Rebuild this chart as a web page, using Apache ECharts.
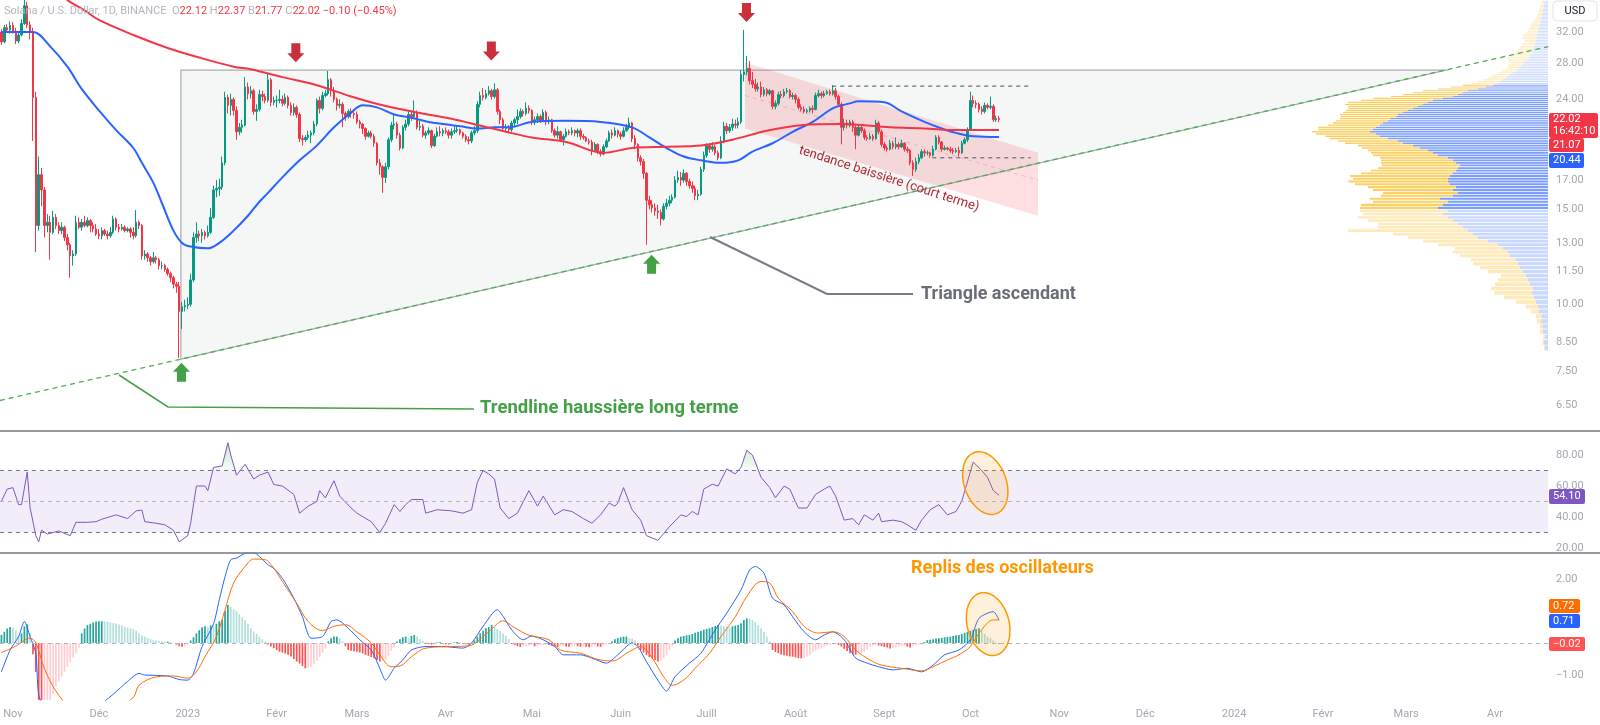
<!DOCTYPE html>
<html><head><meta charset="utf-8">
<script src="https://cdn.jsdelivr.net/npm/echarts@6/dist/echarts.min.js"></script>
<style>html,body{margin:0;padding:0;background:#fff}#c{width:1600px;height:725px}</style>
</head><body><div id="c"></div>
<script>
// ---------- DATA ----------
const startDate = '2022-10-28';   // first category (day index d = -4, where d = days since 2022-11-01)
const dayCount = 540;             // categories on the time axis (to mid-April 2024)
const firstOpen = 32.0;
// daily closes from 2022-10-28 to 2023-10-11
const closes = [
30.7,32.6,32.3,32.9,
32.1,30.8,31.6,33.2,35.8,33.0,31.9,24.2,14.0,17.4,16.3,14.0,14.2,13.6,14.5,14.0,13.7,13.9,13.3,12.9,12.3,12.4,14.2,13.9,14.2,14.0,14.3,14.0,13.8,13.5,
13.4,13.7,13.5,13.4,13.6,14.4,13.9,13.8,13.9,13.7,13.8,13.6,13.4,14.2,14.0,12.3,12.4,12.2,12.0,12.2,12.1,11.8,11.8,11.6,11.4,11.2,10.9,10.8,9.7,9.9,9.95,
10.0,11.1,13.3,13.5,13.4,13.6,13.4,13.6,14.5,16.3,16.4,16.5,18.3,24.2,23.4,24.0,22.9,20.9,21.3,21.5,25.3,24.6,24.9,22.8,23.0,24.5,24.3,23.9,26.1,23.7,23.9,
23.9,24.0,23.6,24.2,23.4,22.7,23.2,22.5,20.3,20.2,20.4,20.6,20.8,21.6,23.9,23.1,24.4,24.6,26.1,24.9,24.0,23.4,23.5,22.6,22.3,22.8,22.6,22.5,
21.8,21.6,21.2,20.5,20.8,20.5,19.9,18.3,18.0,17.2,18.0,20.2,21.5,21.6,20.6,19.5,21.3,21.6,22.5,22.3,22.6,21.3,21.4,20.6,20.8,21.0,19.7,20.5,20.9,20.8,21.0,
20.9,20.6,20.9,21.0,21.1,20.8,20.5,20.2,20.1,20.8,21.0,23.5,24.4,24.2,24.6,24.9,24.3,25.0,22.8,22.0,21.2,21.3,21.1,21.7,22.0,22.3,22.8,22.6,23.1,22.9,
21.8,22.0,22.3,21.9,22.7,21.8,22.0,21.0,20.6,20.9,20.2,20.5,20.9,20.8,21.0,20.8,21.0,20.5,20.4,20.1,20.0,19.3,19.8,19.2,19.0,19.6,20.1,20.8,20.6,21.0,20.7,
20.5,21.0,21.3,21.7,20.3,19.8,18.7,18.4,17.5,15.6,15.3,15.1,14.9,14.8,14.4,15.2,15.4,15.6,15.8,17.0,17.2,17.0,17.5,16.9,16.6,16.4,15.9,16.0,17.8,18.9,
19.7,19.4,19.6,19.1,18.7,20.1,21.4,21.0,21.3,21.6,21.5,21.8,26.7,27.0,27.4,26.0,25.6,25.1,25.3,24.5,25.0,24.6,24.9,23.3,23.6,24.5,24.4,24.8,24.9,24.3,24.4,
24.0,23.2,23.0,22.8,22.9,23.1,23.0,24.4,24.6,24.4,24.6,24.8,24.6,24.9,24.3,23.5,21.3,21.7,21.5,21.8,21.3,20.6,21.3,21.0,20.4,20.3,20.5,20.3,21.7,20.9,19.8,
19.5,19.4,19.9,19.6,19.8,19.6,19.9,19.4,19.3,18.3,17.8,18.4,18.7,19.2,19.1,19.1,18.9,19.4,20.4,20.0,19.4,19.5,19.4,19.3,19.2,19.3,19.1,19.9,20.2,21.1,
23.9,23.6,23.5,23.0,22.8,23.4,23.2,23.3,22.0,22.12,22.02
];
const highs = [
32.4,33.0,33.1,33.5,
33.4,32.6,32.0,33.8,37.9,36.4,33.5,32.6,24.8,18.8,17.9,16.5,14.7,14.6,14.9,14.7,14.2,14.2,14.0,13.5,13.0,12.6,14.6,14.5,14.4,14.6,14.5,14.4,14.2,14.1,
13.8,13.9,13.8,13.7,13.9,14.6,14.5,14.1,14.1,14.0,13.9,13.9,13.9,14.96,14.3,14.1,12.6,12.5,12.3,12.5,12.3,12.2,12.0,11.9,11.7,11.5,11.3,11.0,11.0,10.1,10.2,
10.3,11.4,13.6,14.2,13.7,13.8,13.7,14.0,15.1,16.6,17.0,17.1,18.8,24.8,24.5,24.6,24.2,23.3,21.7,22.0,26.4,25.8,25.4,25.1,23.5,25.0,24.9,24.6,26.9,26.3,24.3,
24.4,25.0,24.4,24.6,24.4,23.7,23.6,23.4,22.7,20.6,20.6,21.0,21.0,21.9,24.1,24.3,24.8,25.0,27.1,26.3,25.3,24.2,24.0,23.7,22.8,23.0,23.1,22.9,
22.8,22.0,21.7,21.3,21.0,21.0,20.7,20.0,18.6,18.1,18.3,20.4,21.8,22.6,21.8,20.8,21.5,22.0,22.8,22.9,23.9,22.9,21.9,21.6,21.0,21.3,21.1,20.7,21.3,21.4,21.2,
21.3,21.1,21.2,21.4,21.5,21.2,20.9,20.7,20.5,21.0,21.4,23.8,24.8,25.2,25.0,25.4,25.1,25.7,25.2,23.0,22.2,21.6,21.5,21.9,22.2,23.0,23.1,23.0,23.7,23.4,
23.0,22.3,22.6,22.5,23.0,22.9,22.3,22.1,21.2,21.4,21.0,20.7,21.2,21.1,21.3,21.1,21.2,21.2,20.7,20.5,20.3,20.2,20.0,19.9,19.4,19.8,20.3,21.0,21.1,21.3,21.1,
20.9,21.3,21.6,22.2,21.8,20.6,19.9,18.9,18.6,17.6,15.9,15.6,15.4,15.3,15.0,15.4,15.7,15.9,16.0,17.3,17.7,17.6,17.8,17.6,17.1,16.9,16.6,16.3,18.0,19.2,
19.9,19.9,20.0,19.8,19.3,20.5,21.8,21.7,21.6,22.1,22.0,22.2,27.2,32.3,28.9,28.3,27.0,26.2,25.8,25.9,25.3,25.2,25.1,25.0,23.9,24.8,24.9,25.1,25.2,25.1,24.7,
24.6,24.2,23.5,23.3,23.1,23.3,23.4,24.7,25.0,24.8,24.9,25.0,25.0,25.5,25.2,24.5,23.7,22.1,22.0,22.0,22.0,21.5,21.5,21.5,21.2,20.6,20.8,20.7,22.0,21.9,21.1,
20.0,19.7,20.2,20.1,20.4,20.0,20.2,20.0,19.6,19.4,18.5,18.7,19.0,19.4,19.4,19.3,19.2,19.7,20.6,20.6,20.1,19.7,19.6,19.6,19.5,19.5,19.6,20.1,20.4,21.3,
24.8,24.4,23.9,23.7,23.3,23.7,23.6,24.3,23.5,22.4,22.37
];
const lows = [
30.3,30.5,31.9,31.8,
31.8,30.4,30.5,31.4,33.0,32.6,31.0,20.1,12.5,13.7,15.2,13.3,13.6,12.1,13.5,13.8,13.5,13.5,13.1,12.6,11.2,11.8,12.3,13.8,13.7,13.9,13.9,13.6,13.6,13.4,
13.2,13.2,13.4,13.2,13.3,13.5,13.7,13.6,13.7,13.6,13.6,13.3,13.2,13.3,13.8,12.1,12.1,12.0,11.8,11.9,11.9,11.6,11.6,11.5,11.3,11.0,10.7,10.5,7.95,9.0,9.7,
9.8,9.9,11.0,13.0,13.1,13.0,13.2,13.3,13.5,14.4,15.8,15.9,16.3,18.1,22.6,22.4,22.4,20.2,20.6,20.8,21.4,24.0,24.1,22.5,21.9,22.8,23.8,23.6,23.7,23.3,23.4,
23.2,23.6,23.3,23.4,23.1,22.4,22.4,22.2,20.0,19.7,20.0,20.2,19.9,20.6,21.4,22.6,22.9,24.2,24.4,24.3,23.7,22.9,23.1,21.3,21.9,22.1,22.2,22.1,
21.6,21.2,20.7,20.2,20.4,20.3,19.6,18.1,17.4,16.1,16.8,17.8,20.0,21.1,20.3,19.3,19.4,21.0,21.4,21.9,22.1,21.1,21.0,20.4,20.3,20.6,19.5,19.6,20.4,20.5,20.5,
20.7,20.3,20.3,20.7,20.8,20.6,20.3,20.0,19.8,19.9,20.6,20.8,23.2,23.9,24.0,24.4,24.0,24.1,22.5,21.6,20.9,20.9,20.8,20.9,21.3,21.6,22.1,22.3,22.4,22.6,
21.5,21.5,21.7,21.7,21.8,21.5,21.6,20.8,20.4,20.3,20.0,19.7,20.4,20.6,20.6,20.5,20.4,20.2,20.2,20.0,19.8,18.9,19.2,19.0,18.8,18.9,19.5,20.0,20.3,20.5,20.4,
20.2,20.4,20.9,21.1,20.0,19.4,18.4,18.1,17.1,12.9,15.0,14.8,14.6,14.4,14.0,14.3,15.0,15.2,15.4,15.7,16.8,16.6,16.8,16.6,16.4,16.1,15.6,15.6,15.9,17.6,
18.7,19.1,19.2,18.9,18.5,18.6,19.9,20.7,20.8,21.0,21.2,21.2,21.6,25.9,26.6,25.6,25.2,24.8,24.8,24.2,24.3,24.3,24.4,23.0,23.0,23.4,24.1,24.2,24.6,24.1,24.0,
23.6,23.0,22.8,22.6,22.6,22.7,22.6,22.9,24.2,24.1,24.2,24.5,24.4,24.4,24.0,23.3,19.8,21.0,21.2,21.3,20.9,19.4,20.5,20.8,20.2,20.1,20.2,20.1,20.2,20.7,19.6,
19.3,19.2,19.3,19.4,19.4,19.4,19.5,19.2,19.1,18.1,17.3,17.6,18.2,18.6,18.8,18.9,18.7,18.8,19.3,19.8,19.2,19.3,19.3,19.1,19.0,19.1,18.8,19.0,19.8,20.0,
21.0,23.2,23.1,22.7,22.5,22.6,23.0,23.0,21.8,21.8,21.77
];
// moving averages: [d, value]
const maBlue = [[-4,32.0],[7,32.0],[13,30.1],[19,27.6],[24,25.1],[30,22.9],[36,21.05],[42,19.5],[45,18.3],[49,16.8],[52,15.4],[56,13.7],[59,13.0],[62,12.8],[68,12.7],[72,13.0],[77,13.7],[82,14.6],[86,15.5],[89,16.1],[94,17.2],[100,18.5],[106,19.7],[112,21.3],[118,22.7],[122,23.4],[127,23.2],[133,22.5],[139,22.2],[145,21.8],[150,21.6],[156,21.4],[162,21.2],[168,21.3],[173,21.3],[181,21.8],[193,21.9],[205,21.8],[216,21.3],[222,20.4],[228,19.5],[234,18.8],[240,18.5],[247,18.3],[253,18.5],[258,19.2],[265,19.9],[272,20.9],[279,21.8],[286,23.1],[292,23.6],[295,23.8],[304,23.7],[310,22.8],[318,21.8],[324,21.2],[329,20.8],[335,20.5],[344,20.44]];
const maRed = [[15,38.5],[19,36.7],[25,35.1],[30,33.7],[42,31.6],[54,29.9],[65,28.7],[77,27.6],[83,27.3],[94,26.4],[106,25.5],[118,24.3],[129,23.4],[141,22.7],[153,22.1],[164,21.4],[172,20.9],[181,20.4],[193,20.0],[206,19.1],[216,19.5],[228,19.6],[240,19.7],[251,20.2],[263,21.0],[275,21.5],[289,21.6],[306,21.3],[318,21.2],[329,21.05],[344,21.07]];
// RSI: [d, value]
const rsi = [[-4,50.2],[-2,58],[0,59],[2,48],[3,48],[5,69],[6,46],[8,28],[9,24],[10,31.5],[12,29],[16,31],[20,28],[22,36.6],[26,36.6],[29,37],[31,38.6],[36,41.4],[40,39],[43,44],[45,44.5],[46,37],[50,36],[53,35],[56,31.5],[58,24],[61,28],[62,36],[64,60],[67,60],[68,57],[70,72],[73,73],[75,88],[76,80],[78,67],[81,74],[84,64.5],[86,67],[89,69],[91,61],[94,60],[98,54.6],[100,42.5],[103,47],[106,50],[107,57],[109,52.4],[112,63.4],[114,53.5],[118,45.8],[120,42.5],[125,37],[128,30],[130,36],[133,48],[135,43.6],[137,48],[139,51.3],[143,51.3],[144,42.5],[148,44.7],[153,44],[157,42.5],[160,44.7],[162,62.3],[164,70],[166,67.8],[168,64.5],[170,45.8],[173,39],[176,42.5],[180,57],[183,47],[185,53.5],[189,41.4],[192,44.7],[195,43.6],[199,39],[202,36],[205,41.4],[208,49],[210,47],[211,49],[213,59],[216,44.7],[219,38],[221,28],[225,25],[227,29.3],[229,33.7],[233,41.4],[235,40.3],[237,43.6],[239,41.4],[241,58],[244,61.2],[246,60],[249,71],[252,67.8],[254,72],[256,83],[258,80],[261,65.6],[264,59],[266,52.4],[269,60],[271,58],[274,45.8],[277,45.8],[280,54.6],[283,58],[285,60],[287,53.5],[290,38],[293,39],[295,35],[297,41.4],[300,38],[302,42.5],[303,37],[307,38],[310,37],[312,35],[315,31.5],[317,38],[320,44.7],[323,48],[326,41.4],[329,43.6],[331,50.2],[335,75.5],[338,70],[340,65.6],[342,57],[344,54.1]];
// MACD lines: [d, value]
const macdLine = [[-4,-0.9],[-1,-0.22],[2,0.2],[4,0.67],[6,0.2],[8,-0.33],[9,-1.6],[12,-2.3],[16,-2.6],[22,-2.5],[28,-2.1],[35,-1.6],[40,-1.2],[44,-0.95],[46,-1.0],[54,-1.03],[58,-1.14],[61,-1.16],[63,-0.95],[66,-0.11],[70,0.6],[72,1.35],[74,2.07],[76,2.6],[78,2.65],[81,2.8],[84,2.82],[86,2.7],[89,2.44],[91,2.33],[94,2.02],[98,1.4],[101,0.82],[104,0.15],[108,0.2],[111,0.67],[113,0.72],[117,0.46],[121,0.1],[125,-0.22],[128,-0.79],[130,-1.16],[133,-0.79],[136,-0.53],[139,-0.22],[144,-0.11],[150,-0.11],[157,-0.16],[160,0],[164,0.52],[169,1.04],[171,0.83],[174,0.41],[178,0.1],[181,0.22],[185,0.1],[189,-0.11],[192,-0.37],[198,-0.37],[202,-0.47],[207,-0.63],[211,-0.37],[216,0],[218,-0.11],[221,-0.58],[225,-1.16],[228,-1.5],[231,-1.05],[236,-0.63],[240,-0.32],[245,0.41],[249,0.93],[254,1.66],[257,2.28],[259,2.39],[262,2.18],[265,1.4],[269,1.19],[272,0.82],[276,0.35],[280,0.1],[283,0.25],[286,0.35],[290,0.1],[294,-0.47],[298,-0.63],[302,-0.74],[307,-0.84],[312,-0.79],[317,-0.9],[321,-0.69],[325,-0.37],[330,-0.22],[334,0.1],[337,0.77],[342,0.98],[344,0.71]];
const macdSignal = [[-4,-0.3],[1,-0.1],[6,0.15],[8,0.0],[11,-0.8],[15,-1.5],[20,-2.0],[28,-2.2],[36,-2.0],[42,-1.7],[44,-1.32],[50,-1.06],[56,-1.03],[61,-1.1],[64,-0.9],[67,-0.43],[71,0.2],[74,1.04],[77,1.87],[81,2.39],[84,2.62],[88,2.6],[91,2.33],[94,1.92],[99,1.24],[103,0.67],[108,0.39],[112,0.52],[116,0.57],[120,0.35],[125,0],[128,-0.37],[132,-0.74],[135,-0.72],[139,-0.43],[144,-0.16],[153,-0.11],[159,-0.09],[166,0.35],[171,0.69],[175,0.48],[180,0.24],[187,0.1],[191,-0.22],[198,-0.32],[204,-0.51],[209,-0.56],[215,-0.27],[219,-0.11],[223,-0.47],[227,-1.05],[230,-1.32],[234,-1.16],[238,-0.79],[243,-0.32],[247,0.2],[252,0.82],[256,1.45],[261,1.92],[264,1.87],[267,1.4],[272,0.98],[276,0.52],[281,0.31],[286,0.35],[290,0.2],[294,-0.22],[299,-0.53],[303,-0.69],[310,-0.79],[317,-0.87],[321,-0.74],[326,-0.53],[330,-0.37],[334,-0.11],[337,0.3],[342,0.72],[344,0.72]];
// MACD histogram, one value per day from 2022-10-28
const macdHist = [
0.25,0.35,0.45,0.5,0.48,0.4,0.22,0.3,0.52,0.58,0.3,
-0.35,-0.9,-1.9,-2.0,-1.95,-1.9,-1.8,-1.6,-1.36,-1.2,-1.05,-0.9,-0.74,-0.6,-0.45,-0.32,-0.15,
0.3,0.45,0.56,0.6,0.64,0.67,0.68,0.68,0.67,0.66,0.64,0.62,0.61,0.58,0.55,0.51,0.48,0.46,0.43,0.38,0.3,0.24,0.2,0.16,0.12,0.09,0.08,0.06,0.05,0.04,0.04,0.03,0.01,
-0.05,-0.1,-0.12,-0.1,-0.05,
0.08,0.18,0.3,0.4,0.49,0.52,0.5,0.55,0.53,0.6,0.68,0.72,1.0,1.19,1.13,1.05,1.0,0.9,0.8,0.72,0.6,0.46,0.36,0.28,0.2,0.12,0.05,
-0.05,-0.11,-0.16,-0.22,-0.27,-0.3,-0.33,-0.37,-0.42,-0.5,-0.58,-0.64,-0.72,-0.79,-0.78,-0.74,-0.65,-0.55,-0.43,-0.3,-0.17,
0.05,0.15,0.2,0.2,0.15,0.05,
-0.1,-0.22,-0.24,-0.26,-0.27,-0.3,-0.33,-0.37,-0.4,-0.44,-0.48,-0.53,-0.58,-0.56,-0.53,-0.4,-0.25,-0.12,
0.05,0.12,0.18,0.2,0.15,0.22,0.25,0.2,0.12,0.07,0.03,
-0.03,-0.05,-0.04,0.02,0.03,-0.02,-0.04,-0.05,-0.03,0.02,0.03,0.02,-0.02,-0.04,-0.05,-0.03,
0.08,0.2,0.3,0.38,0.46,0.5,0.56,0.5,0.44,0.38,0.3,0.22,0.12,
-0.03,-0.06,-0.1,-0.12,-0.11,-0.1,-0.08,-0.06,-0.1,-0.09,-0.07,-0.06,-0.04,-0.06,-0.08,
-0.11,-0.12,-0.1,-0.09,-0.11,-0.12,-0.1,-0.08,-0.1,-0.12,-0.11,-0.12,-0.13,-0.12,-0.1,-0.11,-0.12,-0.1,-0.07,-0.03,
0.05,0.12,0.15,0.18,0.2,0.2,0.15,0.14,0.08,
-0.08,-0.22,-0.3,-0.37,-0.44,-0.48,-0.53,-0.58,-0.55,-0.48,-0.38,-0.22,-0.1,
0.08,0.15,0.2,0.22,0.24,0.25,0.28,0.32,0.35,0.38,0.42,0.44,0.46,0.5,0.53,0.56,0.55,0.53,0.51,0.5,0.52,0.54,0.56,0.62,0.72,0.77,0.76,0.72,0.65,0.56,0.45,0.35,0.2,0.05,
-0.22,-0.28,-0.32,-0.36,-0.38,-0.4,-0.42,-0.43,-0.45,-0.47,-0.48,-0.45,-0.42,-0.37,-0.3,-0.24,-0.2,-0.17,-0.12,-0.08,-0.06,-0.04,
-0.03,-0.06,-0.11,-0.18,-0.25,-0.32,-0.35,-0.37,-0.35,-0.3,-0.27,-0.2,-0.11,-0.08,-0.06,
-0.08,-0.1,-0.12,-0.14,-0.17,-0.16,-0.14,-0.12,-0.1,-0.09,-0.11,-0.14,-0.12,-0.08,-0.05,-0.02,
0.03,0.09,0.1,0.12,0.14,0.15,0.16,0.18,0.19,0.2,0.22,0.24,0.25,0.28,0.32,0.35,0.38,0.41,0.44,0.46,0.38,0.28,0.2,0.15,0.08,0.02,-0.02
];
// volume profile (visible range): rows of 0.2 USD starting at vpStart
const vpStart = 8.2, vpStep = 0.2;
const vpUp = [
3,4,3,5,
5,7,6,9,10, 12,14,16,15,18, 20,22,25,28,30, 32,38,40,45,50, 60,70,75,80,85,
90,95,100,105,100, 110,105,100,108,95, 90,95,92,98,100, 100,98,95,92,90, 88,92,95,100,110,
115,120,128,135,145, 150,160,168,172,178, 175,172,168,165,160, 158,152,150,145,140, 135,130,125,120,115,
105,95,90,85,80, 70,62,55,50,48, 45,42,40,38,35, 32,30,28,27,25, 24,22,20,19,18,
17,16,15,15,14, 14,13,13,12,12, 12,11,11,11,10, 10,10,9,9,9, 8,8,7,7,7, 6,6,6,5,5, 5,5,4,4,4,
4,3,3];
const vpDown = [
1,2,2,3,
3,4,6,8,12, 20,30,38,42,35, 30,25,35,40,45, 45,50,55,48,60, 65,70,80,120,85,
80,85,90,80,88, 78,82,75,70,72, 75,80,88,95,100, 95,100,92,85,80, 78,75,72,68,65,
62,60,58,55,58, 60,58,55,60,58, 55,58,52,50,52, 50,55,58,60,62, 65,70,78,80,72,
70,62,55,50,45, 40,35,30,26,22, 20,18,17,16,15, 14,13,12,13,14, 15,18,20,21,19,
18,17,16,15,14, 13,12,12,11,12, 13,14,14,13,12, 11,10,10,9,9, 8,8,7,7,6, 6,5,5,5,5, 4,4,4,4,3,
3,3,3];
const vaLow = 15.0, vaHigh = 25.6;
// annotations (d, price)
const triangleTop = 27.2, triangleStartDay = 58.6, triangleApexDay = 500, triangleLow = 7.91;
const trendStart = [-4.54, 6.63], trendEnd = [535.6, 30.08];
const channel = {d0: 255.4, d1: 357.6, top0: 28.1, top1: 19.1, bot0: 21.2, bot1: 14.6, mid0: 24.4, mid1: 17.0};
const levels = [{d0: 285.8, d1: 355, p: 25.4}, {d0: 320.7, d1: 355, p: 18.7}];
const redArrows = [[98.7, 29.3], [166.9, 29.5], [255.9, 34.8]];
const greenArrows = [[58.8, 7.48], [222.8, 11.87]];
const rsiOverbought = 70;
const priceTicks = [32, 28, 24, 17, 15, 13, 11.5, 10, 8.5, 7.5, 6.5];
const rsiTicks = [80, 60, 40, 20];
const macdTicks = [2, -1];
const monthNames = ['Janv','Févr','Mars','Avr','Mai','Juin','Juill','Août','Sept','Oct','Nov','Déc'];

// ---------- BUILD ----------
const OFF = 4;
const dates = [];
const t0 = Date.UTC(2022, 9, 28);
for (let i = 0; i < dayCount; i++) dates.push(new Date(t0 + i * 86400000).toISOString().slice(0, 10));
const candles = closes.map((c, i) => [i === 0 ? firstOpen : closes[i - 1], c, lows[i], highs[i]]);
const toIdx = arr => arr.map(p => [p[0] + OFF, p[1]]);
const vpData = vpUp.map((u, i) => [vpStart + i * vpStep, u, vpDown[i]]);
const obBase = rsi.map(p => [p[0] + OFF, rsiOverbought]);
const obExcess = rsi.map(p => [p[0] + OFF, Math.max(0, p[1] - rsiOverbought)]);

const UP = '#089981', DN = '#f23645';
const chart = echarts.init(document.getElementById('c'));
const hidden = {axisLine:{show:false}, axisTick:{show:false}, axisLabel:{show:false}, splitLine:{show:false}};

const option = {
  animation: false,
  backgroundColor: '#ffffff',
  grid: [
    {left: 0, top: 0, width: 1548, height: 431},
    {left: 0, top: 431, width: 1548, height: 122},
    {left: 0, top: 553, width: 1548, height: 147}
  ],
  xAxis: [
    Object.assign({type: 'category', gridIndex: 0, data: dates}, hidden),
    Object.assign({type: 'value', gridIndex: 0, min: 0, max: 1548, inverse: true}, hidden),
    Object.assign({type: 'category', gridIndex: 1, data: dates}, hidden),
    {type: 'category', gridIndex: 2, data: dates, axisLine: {show: false}, axisTick: {show: false}, splitLine: {show: false},
     axisLabel: {
       interval: (i, v) => v.slice(8) === '01',
       formatter: v => { const m = +v.slice(5, 7); return m === 1 ? v.slice(0, 4) : monthNames[m - 1]; },
       color: '#a3a6af', fontSize: 11, margin: 9, fontFamily: 'Roboto'
     }}
  ],
  yAxis: [
    Object.assign({type: 'log', gridIndex: 0, min: 5.82, max: 36.7, logBase: 10}, hidden),
    Object.assign({type: 'value', gridIndex: 1, min: 16.8, max: 95.5}, hidden),
    Object.assign({type: 'value', gridIndex: 2, min: -1.78, max: 2.81}, hidden)
  ],
  series: [
    {type: 'custom', name: 'VP', xAxisIndex: 1, yAxisIndex: 0, z: 1, encode: {x: 1, y: 0}, data: vpData,
     renderItem: (params, api) => {
       const lo = api.value(0), up = api.value(1), dn = api.value(2), hi = lo + vpStep;
       const p0 = api.coord([0, lo]), p1 = api.coord([up, hi]), p2 = api.coord([up + dn, hi]);
       const inVA = lo >= vaLow && hi <= vaHigh + 0.01;
       const h = Math.max(0.8, p0[1] - p1[1] - 0.8);
       return {type: 'group', children: [
         {type: 'rect', shape: {x: p1[0], y: p1[1] + 0.4, width: p0[0] - p1[0], height: h}, style: {fill: inVA ? 'rgba(41,98,255,0.62)' : 'rgba(41,98,255,0.25)'}},
         {type: 'rect', shape: {x: p2[0], y: p1[1] + 0.4, width: p1[0] - p2[0], height: h}, style: {fill: inVA ? 'rgba(251,192,45,0.75)' : 'rgba(251,192,45,0.33)'}}
       ]};
     }},
    {type: 'candlestick', xAxisIndex: 0, yAxisIndex: 0, data: candles, barWidth: '70%', z: 3,
     itemStyle: {color: UP, color0: DN, borderColor: UP, borderColor0: DN, borderWidth: 1}},
    {type: 'line', xAxisIndex: 0, yAxisIndex: 0, data: toIdx(maBlue), smooth: 0.35, showSymbol: false, z: 4,
     lineStyle: {color: '#2962ff', width: 2}},
    {type: 'line', xAxisIndex: 0, yAxisIndex: 0, data: toIdx(maRed), smooth: 0.35, showSymbol: false, z: 4,
     lineStyle: {color: '#f23645', width: 2}},
    {type: 'line', xAxisIndex: 2, yAxisIndex: 1, data: obBase, stack: 'ob', showSymbol: false, z: 3, lineStyle: {opacity: 0}},
    {type: 'line', xAxisIndex: 2, yAxisIndex: 1, data: obExcess, stack: 'ob', showSymbol: false, z: 3, lineStyle: {opacity: 0},
     areaStyle: {color: new echarts.graphic.LinearGradient(0, 0, 0, 1, [{offset: 0, color: 'rgba(76,175,80,0.45)'}, {offset: 1, color: 'rgba(76,175,80,0.05)'}])}},
    {type: 'line', xAxisIndex: 2, yAxisIndex: 1, data: toIdx(rsi), showSymbol: false, z: 4,
     lineStyle: {color: '#7e57c2', width: 1},
     markArea: {silent: true, itemStyle: {color: 'rgba(126,87,194,0.1)'}, data: [[{yAxis: 70}, {yAxis: 30}]]},
     markLine: {silent: true, symbol: 'none', label: {show: false},
       data: [{yAxis: 70, lineStyle: {color: '#787b86', type: [4, 4], width: 1}}, {yAxis: 50, lineStyle: {color: '#b2b5be', type: [4, 4], width: 1}}, {yAxis: 30, lineStyle: {color: '#787b86', type: [4, 4], width: 1}}]}},
    {type: 'bar', xAxisIndex: 3, yAxisIndex: 2, data: macdHist, barWidth: '60%', z: 2,
     itemStyle: {color: p => {
       const v = p.value, prev = p.dataIndex > 0 ? macdHist[p.dataIndex - 1] : v;
       if (v >= 0) return v >= prev ? '#26a69a' : '#b2dfdb';
       return v <= prev ? '#ff5252' : '#ffcdd2';
     }},
     markLine: {silent: true, symbol: 'none', label: {show: false}, data: [{yAxis: 0, lineStyle: {color: '#b2b5be', type: [4, 4], width: 1}}]}},
    {type: 'line', xAxisIndex: 3, yAxisIndex: 2, data: toIdx(macdLine), smooth: 0.25, showSymbol: false, z: 4,
     lineStyle: {color: '#2962ff', width: 1}},
    {type: 'line', xAxisIndex: 3, yAxisIndex: 2, data: toIdx(macdSignal), smooth: 0.35, showSymbol: false, z: 4,
     lineStyle: {color: '#ff6d00', width: 1}}
  ]
};
chart.setOption(option);

// ---------- OVERLAYS ----------
function P(d, price) {
  const i = d + OFF, f = Math.floor(i);
  const a = chart.convertToPixel({xAxisIndex: 0, yAxisIndex: 0}, [f, price]);
  const b = chart.convertToPixel({xAxisIndex: 0, yAxisIndex: 0}, [f + 1, price]);
  return [a[0] + (b[0] - a[0]) * (i - f), a[1]];
}
function Q(d, v, xi, yi) {
  const i = d + OFF, f = Math.floor(i);
  const a = chart.convertToPixel({xAxisIndex: xi, yAxisIndex: yi}, [f, v]);
  const b = chart.convertToPixel({xAxisIndex: xi, yAxisIndex: yi}, [f + 1, v]);
  return [a[0] + (b[0] - a[0]) * (i - f), a[1]];
}
function ellipse(c, rx, ry, rot) {
  const pts = [];
  for (let k = 0; k < 72; k++) {
    const t = k / 72 * Math.PI * 2, x = rx * Math.cos(t), y = ry * Math.sin(t);
    pts.push([c[0] + x * Math.cos(rot) - y * Math.sin(rot), c[1] + x * Math.sin(rot) + y * Math.cos(rot)]);
  }
  return pts;
}
function arrow(c, dir, color) { // dir 1 = down, -1 = up
  const [x, y] = c, s = dir;
  return {type: 'polygon', z: 8, shape: {points: [
    [x - 4.5, y - 9.5 * s], [x + 4.5, y - 9.5 * s], [x + 4.5, y + 0.5 * s], [x + 8.5, y + 0.5 * s],
    [x, y + 9.5 * s], [x - 8.5, y + 0.5 * s], [x - 4.5, y + 0.5 * s]]}, style: {fill: color}};
}
const FONT = 'Roboto, "Noto Sans", sans-serif';
const g = [];
// triangle
g.push({type: 'polygon', z: 1, shape: {points: [P(triangleStartDay, triangleTop), P(triangleApexDay, triangleTop), P(triangleStartDay, triangleLow)]},
  style: {fill: 'rgba(120,123,134,0.07)', stroke: '#a9acb4', lineWidth: 1.2}});
// channel
g.push({type: 'polygon', z: 1, shape: {points: [P(channel.d0, channel.top0), P(channel.d1, channel.top1), P(channel.d1, channel.bot1), P(channel.d0, channel.bot0)]},
  style: {fill: 'rgba(242,54,69,0.16)'}});
const m0 = P(channel.d0, channel.mid0), m1 = P(channel.d1, channel.mid1);
g.push({type: 'line', z: 1, shape: {x1: m0[0], y1: m0[1], x2: m1[0], y2: m1[1]}, style: {stroke: 'rgba(200,120,130,0.35)', lineWidth: 1, lineDash: [4, 4]}});
// trendline
const t1 = P(trendStart[0], trendStart[1]), t2 = P(trendEnd[0], trendEnd[1]);
g.push({type: 'line', z: 5, shape: {x1: t1[0], y1: t1[1], x2: t2[0], y2: t2[1]}, style: {stroke: '#4caf50', lineWidth: 1.3, lineDash: [5, 4]}});
// dashed levels
levels.forEach(l => { const a = P(l.d0, l.p), b = P(l.d1, l.p);
  g.push({type: 'line', z: 5, shape: {x1: a[0], y1: a[1], x2: b[0], y2: b[1]}, style: {stroke: '#50535e', lineWidth: 1, lineDash: [4, 4]}}); });
// arrows
redArrows.forEach(a => g.push(arrow(P(a[0], a[1]), 1, '#c8303c')));
greenArrows.forEach(a => g.push(arrow(P(a[0], a[1]), -1, '#43a047')));
// connectors and labels
g.push({type: 'polyline', z: 6, shape: {points: [[710, 237], [827, 294], [913, 294]]}, style: {stroke: '#787b86', lineWidth: 2, fill: null}});
g.push({type: 'text', z: 8, x: 921, y: 294, style: {text: 'Triangle ascendant', fill: '#6a6d78', font: 'bold 18px ' + FONT, textVerticalAlign: 'middle'}});
g.push({type: 'polyline', z: 6, shape: {points: [[119, 375], [168, 407], [474, 409]]}, style: {stroke: '#43a047', lineWidth: 1.5, fill: null}});
g.push({type: 'text', z: 8, x: 480, y: 408, style: {text: 'Trendline haussière long terme', fill: '#43a047', font: 'bold 18.5px ' + FONT, textVerticalAlign: 'middle'}});
g.push({type: 'text', z: 8, x: 889, y: 179, rotation: -17.8 * Math.PI / 180, style: {text: 'tendance baissière (court terme)', fill: '#b22833', font: '13px ' + FONT, textAlign: 'center', textVerticalAlign: 'middle'}});
g.push({type: 'text', z: 8, x: 911, y: 568, style: {text: 'Replis des oscillateurs', fill: '#ff9800', font: 'bold 18px ' + FONT, textVerticalAlign: 'middle'}});
// ellipses
g.push({type: 'polygon', z: 7, shape: {points: ellipse(Q(339.2, 61.9, 2, 1), 21, 32.5, -0.35)}, style: {fill: 'rgba(255,152,0,0.15)', stroke: '#ff9800', lineWidth: 1.5}});
g.push({type: 'polygon', z: 7, shape: {points: ellipse(Q(340.2, 0.59, 3, 2), 21, 32, -0.25)}, style: {fill: 'rgba(255,152,0,0.15)', stroke: '#ff9800', lineWidth: 1.5}});
// pane separators
[431, 553].forEach(y => g.push({type: 'line', z: 9, shape: {x1: 0, y1: y, x2: 1600, y2: y}, style: {stroke: '#74777f', lineWidth: 1.5}}));
// axis labels
const axisTxt = (x, y, t) => ({type: 'text', z: 9, x, y, style: {text: t, fill: '#a3a6af', font: '11px ' + FONT, textVerticalAlign: 'middle'}});
priceTicks.forEach(v => g.push(axisTxt(1556, chart.convertToPixel({yAxisIndex: 0}, v), v.toFixed(2))));
rsiTicks.forEach(v => g.push(axisTxt(1556, chart.convertToPixel({yAxisIndex: 1}, v), v.toFixed(2))));
macdTicks.forEach(v => g.push(axisTxt(1556, chart.convertToPixel({yAxisIndex: 2}, v), v.toFixed(2).replace('-', '\u2212'))));
// value tags
const tag = (y, h, w, color, text) => [
  {type: 'rect', z: 10, shape: {x: 1549, y: y, width: w, height: h, r: 2}, style: {fill: color}},
  {type: 'text', z: 11, x: 1553, y: y + h / 2, style: {text, fill: '#ffffff', font: '11px ' + FONT, textVerticalAlign: 'middle', lineHeight: 12}}];
g.push(...tag(113, 25, 49, '#f23645', '22.02\n16:42:10'));
g.push(...tag(138, 14, 35, '#f23645', '21.07'));
g.push(...tag(153, 15, 35, '#2962ff', '20.44'));
g.push(...tag(489, 15, 36, '#7e57c2', '54.10'));
g.push(...tag(599, 14, 31, '#ff6d00', '0.72'));
g.push(...tag(614, 14, 31, '#2962ff', '0.71'));
g.push(...tag(637, 14, 36, '#ff5252', '\u22120.02'));
// USD box
g.push({type: 'rect', z: 10, shape: {x: 1553, y: 1, width: 44, height: 20, r: 4}, style: {fill: '#fff', stroke: '#e0e3eb', lineWidth: 1}});
g.push({type: 'text', z: 11, x: 1575, y: 11, style: {text: 'USD', fill: '#131722', font: '11px ' + FONT, textAlign: 'center', textVerticalAlign: 'middle'}});
// header legend
g.push({type: 'text', z: 10, x: 4, y: 11, style: {
  text: '{g|Solana / U.S. Dollar, 1D, BINANCE}  {g|O}{r|22.12} {g|H}{r|22.37} {g|B}{r|21.77} {g|C}{r|22.02} {r|\u22120.10 (\u22120.45%)}',
  textVerticalAlign: 'middle', font: '11px ' + FONT,
  rich: {g: {fill: '#b2b5be', font: '11px ' + FONT}, r: {fill: '#f23645', font: '11px ' + FONT}}}});
chart.setOption({graphic: {elements: g}});
</script>
</body></html>
